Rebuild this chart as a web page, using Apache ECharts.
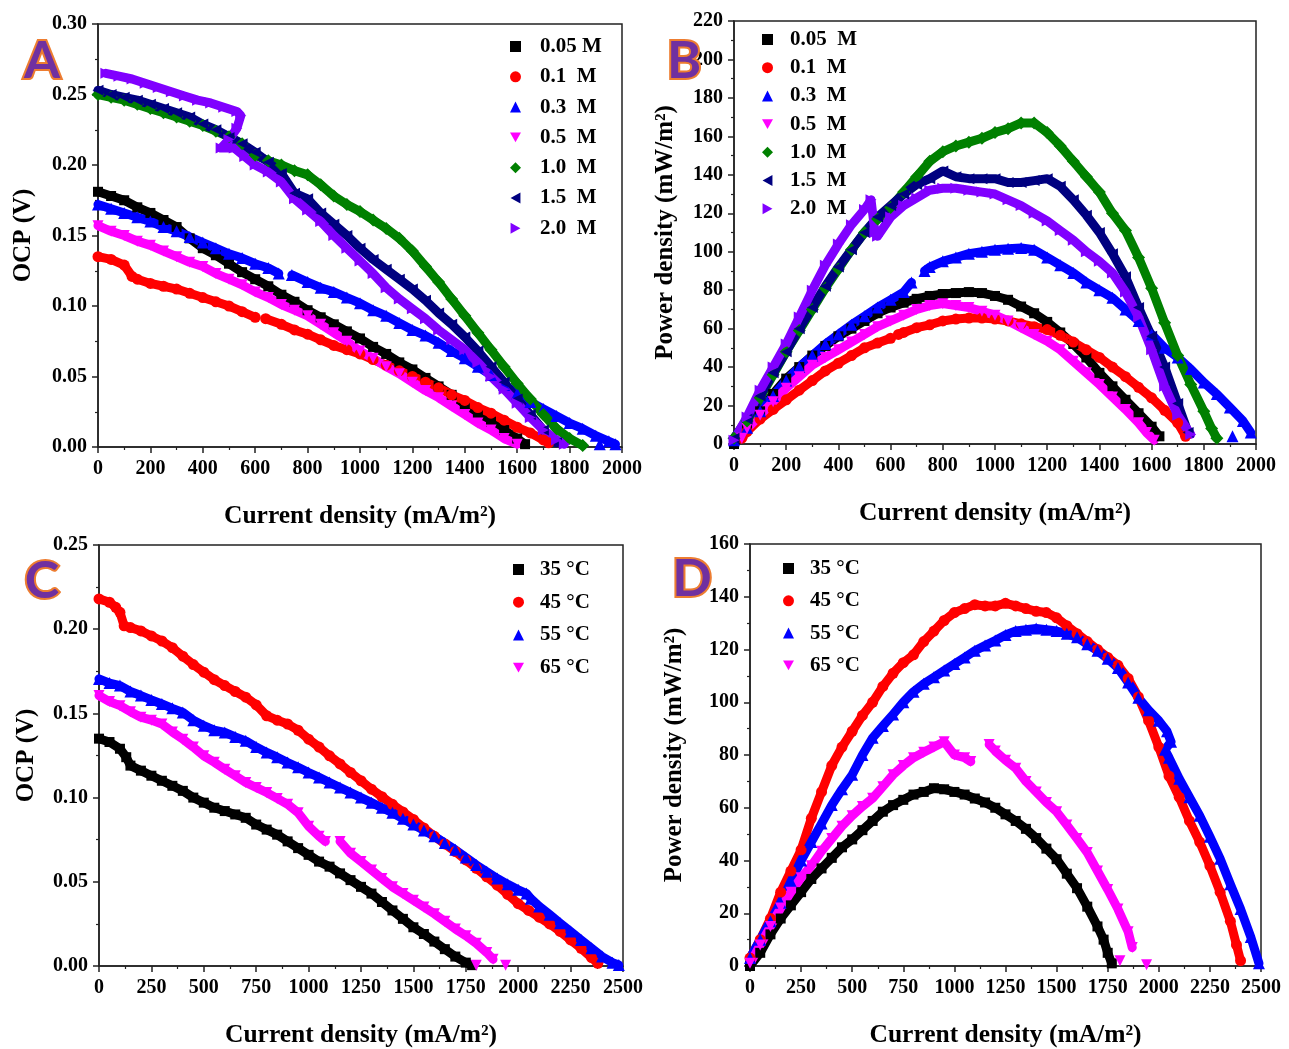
<!DOCTYPE html>
<html>
<head>
<meta charset="utf-8">
<title>OCP and power density curves</title>
<script src="https://cdn.jsdelivr.net/npm/echarts@6/dist/echarts.min.js"></script>
<style>
  html, body { margin: 0; padding: 0; background: #fff; }
  #chart { width: 1289px; height: 1049px; }
</style>
</head>
<body>
<div id="chart"></div>
<script>
// ---------- series names ----------
const concNames = ['0.05 M', '0.1 M', '0.3 M', '0.5 M', '1.0 M', '1.5 M', '2.0 M'];
const tempNames = ['35 °C', '45 °C', '55 °C', '65 °C'];

// empty point: breaks the band where no readings were taken
const GAP = ['-', '-'];

// ---------- panel A: OCP (V) vs current density, by concentration ----------
const ocp_005 = [[0,0.181],[50,0.178],[100,0.175],[150,0.170],[200,0.166],[250,0.161],[300,0.156],[350,0.148],[400,0.141],[450,0.136],[500,0.130],[550,0.124],[600,0.119],[650,0.114],[700,0.108],[750,0.103],[800,0.097],[850,0.092],[900,0.087],[950,0.082],[1000,0.077],[1050,0.071],[1100,0.066],[1150,0.060],[1200,0.055],[1250,0.049],[1300,0.043],[1350,0.037],[1400,0.030],[1450,0.024],[1500,0.018],[1550,0.012],[1600,0.006],[1630,0.002]];
const ocp_01 = [[0,0.135],[50,0.133],[100,0.129],[130,0.121],[150,0.119],[200,0.116],[250,0.114],[300,0.112],[350,0.109],[400,0.106],[450,0.103],[500,0.100],[550,0.096],[600,0.092],GAP,[640,0.091],[700,0.087],[750,0.083],[800,0.080],[850,0.076],[900,0.072],[950,0.069],[1000,0.066],[1050,0.062],[1100,0.058],[1150,0.054],[1200,0.050],[1250,0.046],[1300,0.042],[1350,0.037],[1400,0.033],[1450,0.028],[1500,0.024],[1550,0.019],[1600,0.014],[1650,0.010],[1700,0.005],[1720,0.003]];
const ocp_03 = [[0,0.172],[50,0.169],[100,0.166],[150,0.163],[200,0.160],[250,0.156],[300,0.153],[350,0.149],[400,0.145],[450,0.141],[500,0.137],[550,0.134],[600,0.130],[650,0.127],[690,0.123],GAP,[740,0.122],[800,0.117],[850,0.113],[900,0.110],[950,0.106],[1000,0.102],[1050,0.097],[1100,0.093],[1150,0.088],[1200,0.083],[1250,0.079],[1300,0.074],[1350,0.068],[1400,0.063],[1450,0.057],[1500,0.051],[1550,0.044],[1600,0.038],[1650,0.032],[1700,0.027],[1750,0.022],[1800,0.017],[1850,0.013],[1900,0.008],[1950,0.004],[1975,0.002],GAP,[1915,0.002]];
const ocp_05 = [[0,0.157],[50,0.153],[100,0.150],[150,0.146],[200,0.143],[250,0.139],[300,0.135],[350,0.131],[400,0.128],[450,0.123],[500,0.119],[550,0.115],[600,0.110],[650,0.106],[700,0.101],[750,0.097],[800,0.093],[850,0.087],[900,0.081],[950,0.075],[1000,0.068],[1050,0.063],[1100,0.057],[1150,0.052],[1200,0.046],[1250,0.040],[1300,0.035],[1350,0.029],[1400,0.023],[1450,0.017],[1500,0.012],[1550,0.006],[1600,0.002]];
const ocp_10 = [[0,0.250],[50,0.248],[100,0.246],[150,0.243],[200,0.240],[250,0.237],[300,0.234],[350,0.231],[400,0.228],[450,0.224],[500,0.220],[550,0.215],[600,0.207],[650,0.203],[700,0.200],[750,0.196],[800,0.193],[850,0.186],[900,0.178],[950,0.172],[1000,0.167],[1050,0.161],[1100,0.155],[1150,0.148],[1200,0.139],[1250,0.128],[1300,0.117],[1350,0.105],[1400,0.093],[1450,0.081],[1500,0.069],[1550,0.057],[1600,0.045],[1650,0.034],[1700,0.023],[1750,0.013],[1800,0.006],[1850,0.001]];
const ocp_15 = [[0,0.253],[50,0.250],[100,0.248],[150,0.246],[200,0.243],[250,0.240],[300,0.237],[350,0.234],[400,0.229],[450,0.225],[500,0.220],[550,0.215],[600,0.209],[650,0.202],[700,0.194],[750,0.180],[800,0.176],[850,0.166],[900,0.158],[950,0.150],[1000,0.141],[1050,0.133],[1100,0.126],[1150,0.119],[1200,0.112],[1250,0.104],[1300,0.095],[1350,0.087],[1400,0.078],[1450,0.068],[1500,0.057],[1550,0.046],[1600,0.034],[1650,0.023],[1700,0.012],[1750,0.003]];
const ocp_20 = [[30,0.265],[80,0.263],[130,0.261],[180,0.258],[230,0.255],[280,0.252],[330,0.249],[380,0.246],[430,0.244],[480,0.241],[530,0.238],[545,0.235],[530,0.226],[500,0.218],[470,0.212],[520,0.212],[560,0.206],[600,0.200],[650,0.195],[700,0.188],[750,0.176],[800,0.168],[850,0.160],[900,0.150],[950,0.141],[1000,0.132],[1050,0.123],[1100,0.113],[1150,0.105],[1200,0.098],[1250,0.091],[1300,0.083],[1350,0.076],[1400,0.069],[1450,0.060],[1500,0.050],[1550,0.041],[1600,0.031],[1650,0.021],[1700,0.012],[1750,0.005],[1780,0.002]];

// ---------- panel B: power density (mW/m2) vs current density, by concentration ----------
const pow_005 = [[0,0],[50,9],[100,17],[150,26],[200,34],[250,40],[300,46],[350,51],[400,56],[450,60],[500,64],[550,68],[600,71],[650,73.5],[700,75.5],[750,77],[800,78],[850,78.5],[900,79],[950,78.5],[1000,77],[1050,75],[1100,71.5],[1150,68],[1200,63.5],[1250,58],[1300,52],[1350,45],[1400,37],[1450,30],[1500,23],[1550,16],[1600,9],[1630,4]];
const pow_01 = [[30,3],[50,6.5],[100,13],[150,18],[200,23],[250,28],[300,33],[350,38],[400,42],[450,46],[500,50],[550,52.5],[600,55],GAP,[630,57],[650,58],[700,60.5],[750,62],[800,64],[850,65],[900,65.5],[950,65.5],[1000,65],[1050,64],[1100,62.5],[1150,61],[1200,59.5],[1250,56.5],[1300,53],[1350,49],[1400,45],[1450,40],[1500,35],[1550,29.5],[1600,24],[1650,17.5],[1700,11],[1730,4]];
const pow_03 = [[0,2],[50,8.5],[100,17],[150,25],[200,33],[250,40],[300,46],[350,52],[400,57],[450,62],[500,66.5],[550,71],[600,75],[650,79],[680,84],GAP,[730,90],[750,92],[800,95],[850,97],[900,99],[950,100],[1000,101],[1050,101.5],[1100,102],[1150,101],[1200,97],[1250,93],[1300,89],[1350,84],[1400,80],[1450,76],[1500,70],[1550,64],[1600,57],[1650,50],[1700,45],[1750,39],[1800,32],[1850,26],[1900,19],[1950,12],[1980,6],GAP,[1910,4]];
const pow_05 = [[30,3],[50,8],[100,15],[150,22],[200,29],[250,35],[300,41],[350,45],[400,49],[450,53],[500,57],[550,61],[600,64],[650,67],[700,70],[750,72],[800,73],[850,72],[900,71],[950,69],[1000,67],[1050,64],[1100,60.5],[1150,57],[1200,53.5],[1250,49],[1300,43],[1350,37],[1400,31],[1450,24.5],[1500,18],[1550,11],[1580,6],[1610,2]];
const pow_10 = [[0,3],[50,12],[100,24],[150,36],[200,48],[250,59],[300,70],[350,81],[400,91],[450,101],[500,110],[550,117],[600,123],[650,131],[700,139],[750,147],[800,152],[850,155],[900,157],[950,159],[1000,162],[1050,164],[1100,167],[1150,167],[1200,162],[1250,155],[1300,147],[1350,139],[1400,131],[1450,120],[1500,111],[1550,97],[1600,81],[1650,63],[1700,46],[1750,31],[1800,17],[1830,8],[1850,3]];
const pow_15 = [[0,3],[50,13],[100,25],[150,37],[200,48],[250,60],[300,71],[350,82],[400,92],[450,101],[500,110],[550,118],[600,124],[650,130],[700,135],[750,138],[800,142],[850,139],[900,138],[950,138],[1000,138],[1050,136],[1100,136],[1150,137],[1200,138],[1250,134],[1300,127],[1350,119],[1400,110],[1450,99],[1500,87],[1550,71],[1600,56],[1650,40],[1700,21],[1740,6]];
const pow_20 = [[0,2],[50,14],[100,28],[150,40],[200,52],[250,66],[300,80],[350,93],[400,104],[450,114],[500,122],[525,127],[540,110],[550,108],[600,118],[650,124],[700,128],[750,132],[800,133],[850,133],[900,132],[950,131],[1000,130],[1050,127],[1100,124],[1150,120],[1200,116],[1250,111],[1300,106],[1350,100],[1400,95],[1450,89],[1500,79],[1550,66],[1600,49],[1650,30],[1700,15],[1750,5]];

// ---------- panel C: OCP (V) vs current density, by temperature ----------
const ocp_35 = [[0,0.135],[50,0.133],[100,0.129],[130,0.124],[150,0.119],[200,0.116],[250,0.113],[300,0.110],[350,0.107],[400,0.104],[450,0.100],[500,0.097],[550,0.094],[600,0.092],[650,0.090],[700,0.088],[750,0.084],[800,0.081],[850,0.078],[900,0.074],[950,0.070],[1000,0.066],[1050,0.062],[1100,0.059],[1150,0.055],[1200,0.051],[1250,0.047],[1300,0.043],[1350,0.038],[1400,0.033],[1450,0.028],[1500,0.023],[1550,0.019],[1600,0.0145],[1650,0.010],[1700,0.0056],[1750,0.002],[1780,0.0005]];
const ocp_45 = [[0,0.218],[50,0.216],[80,0.213],[100,0.210],[120,0.202],[150,0.201],[200,0.199],[250,0.196],[300,0.193],[350,0.189],[400,0.184],[450,0.179],[500,0.1745],[550,0.170],[600,0.1665],[650,0.163],[700,0.1596],[750,0.155],[800,0.1486],[850,0.146],[900,0.1437],[950,0.140],[1000,0.1347],[1050,0.130],[1100,0.1248],[1150,0.120],[1200,0.1149],[1250,0.110],[1300,0.105],[1350,0.1005],[1400,0.096],[1450,0.0915],[1500,0.087],[1550,0.082],[1600,0.077],[1650,0.0725],[1700,0.068],[1750,0.063],[1800,0.058],[1850,0.053],[1900,0.048],[1950,0.0425],[2000,0.037],[2050,0.033],[2100,0.029],[2150,0.025],[2200,0.0205],[2250,0.0155],[2300,0.0105],[2350,0.005],[2380,0.0016]];
const ocp_55 = [[0,0.1705],[50,0.168],[100,0.1665],[150,0.163],[200,0.1606],[250,0.158],[300,0.1556],[350,0.153],[400,0.1506],[450,0.146],[500,0.1427],[550,0.140],[600,0.1387],[650,0.136],[700,0.1337],[750,0.130],[800,0.1268],[850,0.124],[900,0.1208],[950,0.118],[1000,0.1149],[1050,0.112],[1100,0.109],[1150,0.106],[1200,0.103],[1250,0.100],[1300,0.097],[1350,0.094],[1400,0.091],[1450,0.0875],[1500,0.084],[1550,0.0805],[1600,0.077],[1650,0.073],[1700,0.069],[1750,0.0645],[1800,0.060],[1850,0.056],[1900,0.052],[1950,0.0485],[2000,0.0453],[2040,0.043],[2060,0.040],[2100,0.0354],[2150,0.0305],[2200,0.0254],[2250,0.0205],[2300,0.0155],[2350,0.0105],[2400,0.0056],[2450,0.002],[2480,0.0006]];
const ocp_65 = [[0,0.1606],[50,0.157],[100,0.1546],[150,0.151],[200,0.1477],[250,0.146],[300,0.1437],[350,0.139],[400,0.1347],[450,0.130],[500,0.1248],[550,0.121],[600,0.1169],[650,0.113],[700,0.109],[750,0.106],[800,0.103],[850,0.0995],[900,0.096],[950,0.091],[1000,0.083],[1050,0.077],[1080,0.074],GAP,[1150,0.074],[1200,0.067],[1250,0.062],[1300,0.057],[1350,0.052],[1400,0.047],[1450,0.043],[1500,0.039],[1550,0.035],[1600,0.031],[1650,0.0265],[1700,0.022],[1750,0.018],[1800,0.0135],[1850,0.008],[1880,0.004],GAP,[1800,0.0005],GAP,[1940,0.0005]];

// ---------- panel D: power density (mW/m2) vs current density, by temperature ----------
const pow_35 = [[0,0],[50,5],[100,12],[150,18],[200,23],[250,28],[300,33],[350,37],[400,41],[450,45],[500,48],[550,51.5],[600,55],[650,58.5],[700,61],[750,63],[800,65],[850,66],[900,67.4],[950,67],[1000,66],[1050,65],[1100,63.5],[1150,62],[1200,60],[1250,57.5],[1300,55],[1350,52],[1400,48.5],[1450,44.5],[1500,40.5],[1550,35],[1600,29.5],[1650,22.5],[1700,15],[1730,10],[1750,5],[1770,1]];
const pow_45 = [[0,3],[50,10],[100,18],[150,28],[200,36],[250,44],[300,56],[350,66],[400,76],[450,83],[500,89],[550,95],[600,100],[650,106],[700,111],[750,115],[800,118],[850,123],[900,127],[950,131],[1000,134],[1050,135.5],[1100,137],[1150,136.5],[1200,136.5],[1250,137.5],[1300,136.5],[1350,135.5],[1400,134.5],[1450,134],[1500,132],[1550,129],[1600,126],[1650,123],[1700,120],[1750,117],[1800,114],[1850,109],[1900,102],[1950,93],[2000,83],[2050,72],[2100,64],[2150,55],[2200,47],[2250,38],[2300,28],[2350,17],[2380,8],[2400,2]];
const pow_55 = [[0,3],[50,10],[100,17],[150,24],[200,32],[250,40],[300,47],[350,54],[400,61],[450,67],[500,72.5],[550,80],[600,86.5],[650,91],[700,95.4],[750,100],[800,104],[850,107],[900,109.5],[950,112],[1000,114.5],[1050,117],[1100,119.5],[1150,121.5],[1200,123.4],[1250,125.5],[1300,127],[1350,127.5],[1400,128],[1450,127.5],[1500,127],[1550,126],[1600,124.6],[1650,122],[1700,119.5],[1750,116.5],[1800,113],[1850,107.5],[1900,101.7],[1950,97],[2000,93],[2040,89],[2060,85],[2030,82],[2050,79],[2100,71],[2150,64],[2200,57],[2250,49],[2300,40.7],[2350,31],[2400,21.6],[2450,11],[2490,1]];
const pow_65 = [[0,1],[50,8],[100,15],[150,22],[200,28],[250,33.5],[300,38],[350,43.5],[400,48.3],[450,53],[500,57],[550,60.5],[600,63.6],[650,68],[700,72.5],[750,76],[800,79],[850,81],[900,83],[950,85],[1000,80],[1050,79],[1080,77.5],GAP,[1170,84],[1200,81.5],[1250,78],[1300,75],[1350,70],[1400,66],[1450,62],[1500,58.5],[1550,53.5],[1600,48.3],[1650,43],[1700,36],[1750,29],[1800,21.6],[1850,13],[1870,7],GAP,[1810,2],GAP,[1940,0.5]];

// ---------- axis tick settings ----------
const xTicksConc = { min: 0, max: 2000, interval: 200 };
const xTicksTemp = { min: 0, max: 2500, interval: 250 };
const yTicksA = { min: 0, max: 0.30, interval: 0.05 };
const yTicksB = { min: 0, max: 220, interval: 20 };
const yTicksC = { min: 0, max: 0.25, interval: 0.05 };
const yTicksD = { min: 0, max: 160, interval: 20 };

// ---------- styling ----------
const SERIF = "'Liberation Serif', 'Times New Roman', serif";
const colorsConc = ['#000000', '#ff0000', '#0000ff', '#ff00ff', '#008000', '#000080', '#8000ff'];
const colorsTemp = ['#000000', '#ff0000', '#0000ff', '#ff00ff'];
const TRI_DOWN = 'path://M0,0L10,0L5,9Z';
const TRI_LEFT = 'path://M0,5L9,0L9,10Z';
const TRI_RIGHT = 'path://M0,0L9,5L0,10Z';
const symbolsConc = ['rect', 'circle', 'triangle', TRI_DOWN, 'diamond', TRI_LEFT, TRI_RIGHT];
const sizesConc = [10, 11, 12, 11, 13, 11, 11];
const symbolsTemp = ['rect', 'circle', 'triangle', TRI_DOWN];
const sizesTemp = [10, 11, 12, 11];

const grids = [
  { left: 98, top: 24, width: 524, height: 423 },
  { left: 734, top: 21, width: 522, height: 423 },
  { left: 99, top: 545, width: 524, height: 422 },
  { left: 750, top: 544, width: 511, height: 423 }
].map(g => Object.assign({ show: true, borderColor: '#222', borderWidth: 1.5, backgroundColor: 'transparent' }, g));

function xAxis(gridIndex, ticks) {
  return Object.assign({
    type: 'value', gridIndex,
    name: 'Current density (mA/m²)', nameLocation: 'middle', nameGap: 56,
    nameTextStyle: { fontFamily: SERIF, fontWeight: 'bold', fontSize: 25.5, color: '#000' },
    axisLine: { show: true, onZero: false, lineStyle: { color: '#222', width: 1.5 } },
    axisTick: { show: true, inside: false, length: 6, lineStyle: { color: '#222', width: 1.5 } },
    minorTick: { show: true, splitNumber: 2, length: 3, lineStyle: { color: '#222', width: 1.2 } },
    splitLine: { show: false },
    axisLabel: {
      fontFamily: SERIF, fontWeight: 'bold', fontSize: 20, color: '#000', margin: 12,
      showMinLabel: true, showMaxLabel: true,
      formatter: v => String(v)
    }
  }, ticks);
}

function yAxis(gridIndex, ticks, title, gap, decimals) {
  return Object.assign({
    type: 'value', gridIndex,
    name: title, nameLocation: 'middle', nameGap: gap, nameRotate: 90,
    nameTextStyle: { fontFamily: SERIF, fontWeight: 'bold', fontSize: 25, color: '#000' },
    axisLine: { show: true, onZero: false, lineStyle: { color: '#222', width: 1.5 } },
    axisTick: { show: true, inside: false, length: 6, lineStyle: { color: '#222', width: 1.5 } },
    minorTick: { show: true, splitNumber: 2, length: 3, lineStyle: { color: '#222', width: 1.2 } },
    splitLine: { show: false },
    axisLabel: {
      fontFamily: SERIF, fontWeight: 'bold', fontSize: 20, color: '#000', margin: 11,
      showMinLabel: true, showMaxLabel: true,
      formatter: v => decimals ? v.toFixed(decimals) : String(v)
    }
  }, ticks);
}

function band(name, data, color, symbol, size, axisIndex) {
  return {
    type: 'line', name, data,
    xAxisIndex: axisIndex, yAxisIndex: axisIndex,
    symbol, symbolSize: size, showSymbol: true,
    itemStyle: { color },
    lineStyle: { color, width: 9, join: 'round', cap: 'round' },
    connectNulls: false,
    emphasis: { disabled: true },
    animation: false
  };
}

const concOcp = [ocp_005, ocp_01, ocp_03, ocp_05, ocp_10, ocp_15, ocp_20];
const concPow = [pow_005, pow_01, pow_03, pow_05, pow_10, pow_15, pow_20];
const tempOcp = [ocp_35, ocp_45, ocp_55, ocp_65];
const tempPow = [pow_35, pow_45, pow_55, pow_65];

const series = [];
concNames.forEach((n, i) => series.push(band(n, concOcp[i], colorsConc[i], symbolsConc[i], sizesConc[i], 0)));
concNames.forEach((n, i) => series.push(band(n, concPow[i], colorsConc[i], symbolsConc[i], sizesConc[i], 1)));
tempNames.forEach((n, i) => series.push(band(n, tempOcp[i], colorsTemp[i], symbolsTemp[i], sizesTemp[i], 2)));
tempNames.forEach((n, i) => series.push(band(n, tempPow[i], colorsTemp[i], symbolsTemp[i], sizesTemp[i], 3)));

// vertical legend; the rich padding sets the space between marker and label
function legend(names, icons, left, top, gap, textPad, spacer) {
  return {
    orient: 'vertical', left, top, itemGap: gap,
    itemWidth: 11, itemHeight: 11,
    selectedMode: false,
    data: names.map((n, i) => ({ name: n, icon: icons[i] })),
    formatter: n => '{t|' + spacer(n) + '}',
    textStyle: {
      fontFamily: SERIF, fontWeight: 'bold', fontSize: 21, lineHeight: 20, color: '#000',
      rich: { t: { fontFamily: SERIF, fontWeight: 'bold', fontSize: 21, lineHeight: 20, color: '#000', padding: [0, 0, 0, textPad] } }
    }
  };
}

const spacerA = n => n === '0.05 M' ? n : n.replace(' ', '  ');
const spacerB = n => n.replace(' ', '  ');
const spacerT = n => n;

const letterStyle = {
  fill: '#7030a0', stroke: '#ed7d31', lineWidth: 4, strokeFirst: true,
  font: "bold 52px Lato, 'Open Sans', sans-serif", align: 'center', verticalAlign: 'middle'
};
function letter(ch, x, y) {
  return { type: 'text', x, y, z: 100, style: Object.assign({ text: ch }, letterStyle) };
}

const option = {
  backgroundColor: '#ffffff',
  animation: false,
  grid: grids,
  xAxis: [xAxis(0, xTicksConc), xAxis(1, xTicksConc), xAxis(2, xTicksTemp), xAxis(3, xTicksTemp)],
  yAxis: [
    yAxis(0, yTicksA, 'OCP (V)', 62, 2),
    yAxis(1, yTicksB, 'Power density (mW/m²)', 56, 0),
    yAxis(2, yTicksC, 'OCP (V)', 60, 2),
    yAxis(3, yTicksD, 'Power density (mW/m²)', 63, 0)
  ],
  legend: [
    legend(concNames, symbolsConc, 505, 31, 9.3, 14, spacerA),
    legend(concNames, symbolsConc, 757, 24, 7.2, 12, spacerB),
    legend(tempNames, symbolsTemp, 508, 554, 11.7, 11, spacerT),
    legend(tempNames, symbolsTemp, 778, 553, 11.3, 11, spacerT)
  ],
  graphic: [letter('A', 42, 61), letter('B', 684, 61), letter('C', 42, 581), letter('D', 692, 579)],
  series
};

const chart = echarts.init(document.getElementById('chart'), null, { renderer: 'canvas' });
chart.setOption(option);
</script>
</body>
</html>
